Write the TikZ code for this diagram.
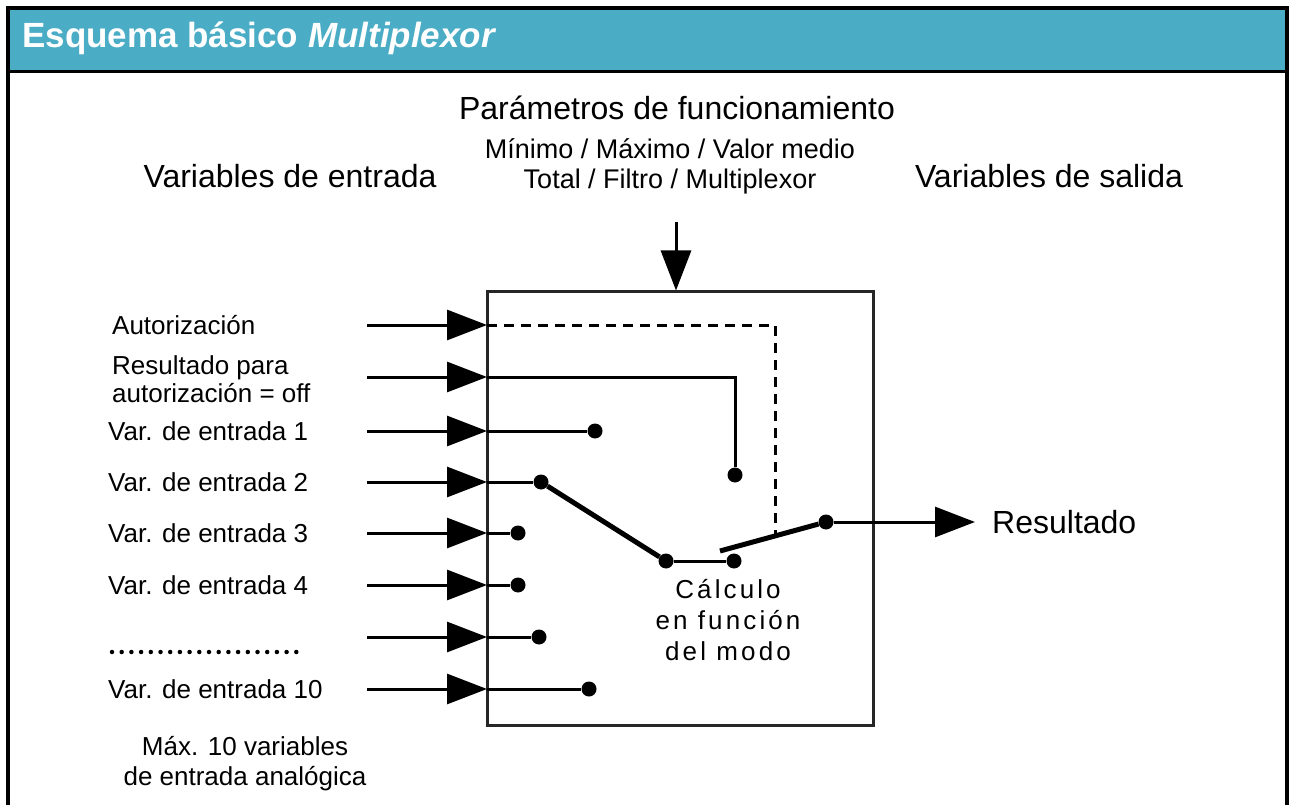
\documentclass[tikz,border=0pt]{standalone}
\usepackage{fontspec}
\setmainfont{Liberation Sans}
\usepackage{tikz}
\usetikzlibrary{arrows.meta}

\definecolor{hdrblue}{RGB}{75,172,198}

\tikzset{
  wire/.style={line width=3pt},
  arm/.style={line width=5pt},
  inarrow/.style={line width=3pt, -{Triangle[length=40pt,width=30pt]}},
  dot/.style={circle, fill, inner sep=0pt, minimum size=15pt},
  lbl/.style={anchor=west, inner sep=0pt, font=\fontsize{26}{31}\selectfont},
  big/.style={inner sep=0pt, font=\fontsize{32}{38}\selectfont},
  small/.style={inner sep=0pt, align=center, font=\fontsize{27}{30}\selectfont},
}

\begin{document}
\begin{tikzpicture}[x=1pt, y=-1pt]
\useasboundingbox (0,0) rectangle (1294,805);

\fill[hdrblue] (8,8) rectangle (1287,72);
\draw[line width=3.5pt] (8,805) -- (8,8) -- (1287,8) -- (1287,805);
\draw[line width=3pt] (8,72) -- (1287,72);
\node[anchor=west, inner sep=0pt, text=white, font=\fontsize{35}{40}\selectfont\bfseries] (title) at (22,38) {Esquema básico \textit{Multiplexor}};

\node[big] (param) at (677,108) {Parámetros de funcionamiento};
\node[small] (modes) at (670,166) {Mínimo / Máximo / Valor medio\\Total / Filtro / Multiplexor};
\node[big] (vin) at (290,176) {Variables de entrada};
\node[big] (vout) at (1049,176) {Variables de salida};

\node[draw, line width=3pt, draw=black!85, minimum width=386pt, minimum height=433pt, inner sep=0pt] (mux) at (680,508.5) {};

\coordinate (p) at (676,222);
\draw[inarrow] (p) -- (mux.north -| p);

\coordinate (a-s) at (367,325);
\coordinate (a-e) at (487,325);
\coordinate (a-c) at (775,325);
\coordinate (k) at (775,536);
\draw[inarrow] (a-s) -- (a-e);
\draw[wire, dash pattern=on 10pt off 7pt] (a-e) -- (a-c) -- (k);
\node[lbl] (la) at (112,325) {Autorización};

\coordinate (b-s) at (367,377);
\coordinate (b-e) at (487,377);
\coordinate (b-c) at (735,377);
\node[dot] (b-d) at (735,475) {};
\draw[inarrow] (b-s) -- (b-e);
\draw[wire] (b-e) -- (b-c) -- (b-d);
\node[lbl, align=left, font=\fontsize{26}{28}\selectfont] (lb) at (112,379) {Resultado para\\autorización = off};

\foreach \n/\y/\dx/\t in {v1/431/595/{Var. de entrada 1}, v2/482/541/{Var. de entrada 2}, v3/533/518/{Var. de entrada 3}, v4/585/518/{Var. de entrada 4}, vx/637/539/{}, v10/689/589/{Var. de entrada 10}} {
  \coordinate (\n-s) at (367,\y);
  \coordinate (\n-e) at (487,\y);
  \node[dot] (\n-d) at (\dx,\y) {};
  \draw[inarrow] (\n-s) -- (\n-e);
  \draw[wire] (\n-e) -- (\n-d);
  \node[lbl] (l\n) at (108,\y) {\t};
}
\draw[line width=4.5pt, line cap=round, dash pattern=on 0pt off 9.7pt] (112,652) -- (305,652);

\node[dot] (c1) at (666,561) {};
\node[dot] (c2) at (734,561) {};
\node[dot] (out) at (826,522) {};
\coordinate (sw) at (720,551);
\draw[arm] (v2-d) -- (c1);
\draw[wire] (c1) -- (c2);
\draw[arm] (sw) -- (out);

\coordinate (res) at (975,522);
\draw[inarrow] (out) -- (res);
\node[big, anchor=west] (lres) at (992,522) {Resultado};

\node[small, font=\fontsize{26}{31}\selectfont\addfontfeature{LetterSpace=12}] (calc) at (728,620) {Cálculo\\en función\\del modo};

\node[small, font=\fontsize{26}{30}\selectfont] (maxv) at (245,764) {Máx. 10 variables\\de entrada analógica};
\end{tikzpicture}
\end{document}
